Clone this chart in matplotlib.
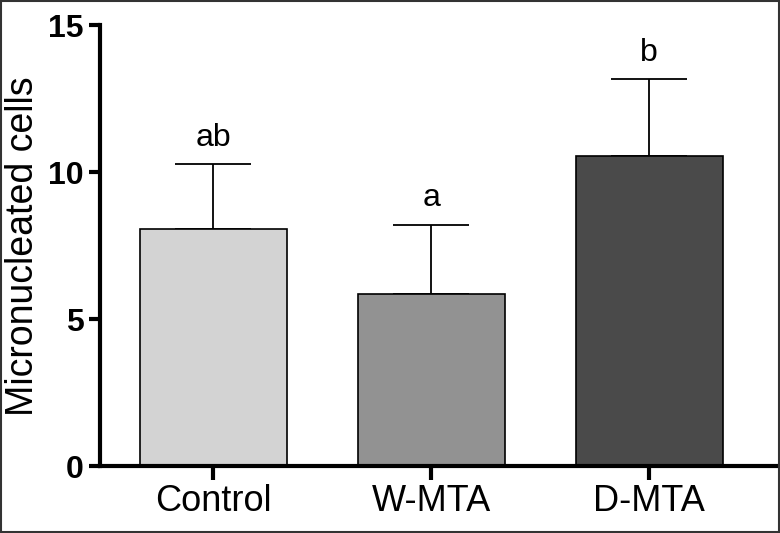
import matplotlib.pyplot as plt
from matplotlib.patches import Rectangle

plt.rcParams['font.family'] = ['Liberation Sans', 'DejaVu Sans']

# data
groups = ['Control', 'W-MTA', 'D-MTA']
means = [8.07, 5.87, 10.55]
sd = [2.22, 2.35, 2.63]
letters = ['ab', 'a', 'b']
colors = ['#d3d3d3', '#929292', '#4a4a4a']

fig = plt.figure(figsize=(7.8, 5.33), dpi=100)
ax = fig.add_axes([0.1282, 0.1257, 0.8718, 0.8265])

x = list(range(len(groups)))
ax.bar(x, means, width=0.675, color=colors, edgecolor='black', linewidth=1.2, zorder=2)
ax.errorbar(x, means, yerr=[[0] * len(sd), sd], fmt='none', ecolor='black',
            elinewidth=1.3, capsize=27.5, capthick=1.3, zorder=1)

for xi, m, s, t in zip(x, means, sd, letters):
    ax.annotate(t, (xi, m + s), xytext=(0, 8), textcoords='offset points',
                ha='center', va='bottom', fontsize=23)

ax.set_xlim(-0.52, 2.6)
ax.set_ylim(0, 15)
ax.set_yticks([0, 5, 10, 15])
ax.set_xticks(x)
ax.set_xticklabels(groups, fontsize=26)
for lab in ax.get_yticklabels():
    lab.set_fontsize(23)
    lab.set_fontweight('bold')

ax.spines['top'].set_visible(False)
ax.spines['right'].set_visible(False)
ax.spines['left'].set_linewidth(3)
ax.spines['bottom'].set_linewidth(3)
ax.tick_params(axis='y', length=8, width=3, pad=4)
ax.tick_params(axis='x', length=10, width=3, pad=3)

ax.set_ylabel('Micronucleated cells', fontsize=27, labelpad=5)

# thin frame round the picture
fig.patches.append(Rectangle((0.001, 0.001), 0.998, 0.997, transform=fig.transFigure,
                             fill=False, edgecolor='#333333', linewidth=1.5))

fig.savefig('out.png', dpi=100)
